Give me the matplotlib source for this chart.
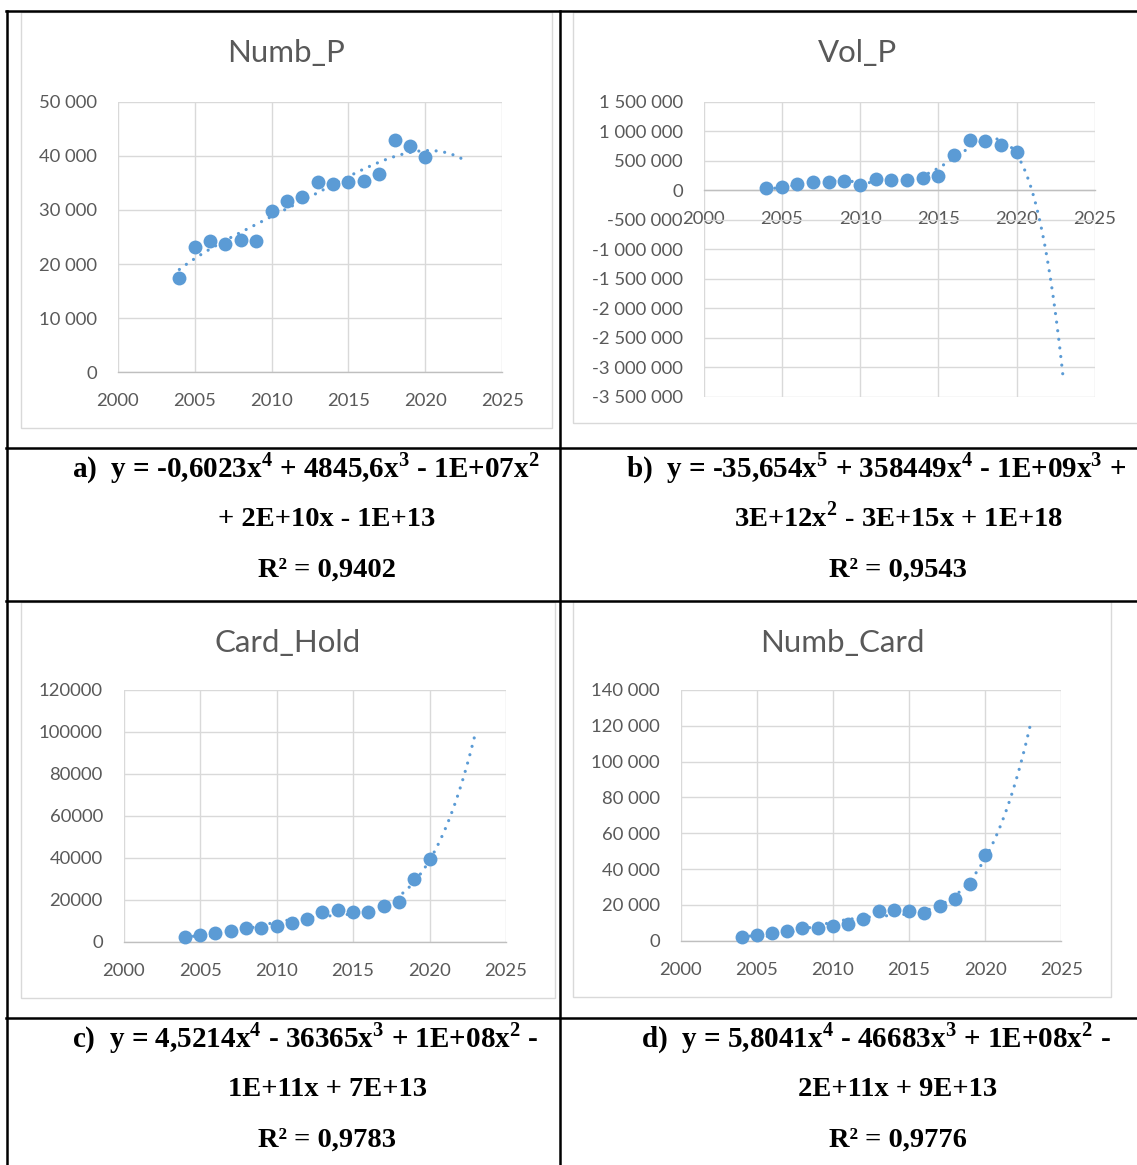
import numpy as np
import matplotlib
matplotlib.use("Agg")
import matplotlib.pyplot as plt
from matplotlib.ticker import FuncFormatter, MultipleLocator
from matplotlib.lines import Line2D
from matplotlib.patches import Rectangle

plt.rcParams["mathtext.fontset"] = "custom"
plt.rcParams["mathtext.bf"] = "Liberation Serif:bold"
plt.rcParams["mathtext.rm"] = "Liberation Serif:bold"

# ---------------- data ----------------
years = [2004, 2005, 2006, 2007, 2008, 2009, 2010, 2011, 2012,
         2013, 2014, 2015, 2016, 2017, 2018, 2019, 2020]

numb_p = [17500, 23200, 24200, 23700, 24500, 24300, 29800, 31600, 32400,
          35200, 34800, 35200, 35400, 36600, 43000, 41800, 39800]

vol_p = [30000, 51000, 102000, 141000, 141000, 153000, 80000, 187000, 170000,
         175000, 199000, 238000, 594000, 849000, 837000, 764000, 645000]

card_hold = [2100, 3200, 4000, 5300, 6500, 6500, 7600, 8900, 10800,
             14200, 14900, 14200, 14000, 17000, 18900, 29700, 39300]

numb_card = [2200, 3000, 4100, 5600, 6900, 7300, 8200, 9300, 11900,
             16400, 16900, 16800, 15500, 19400, 23300, 31800, 47900]

titles = ["Numb_P", "Vol_P", "Card_Hold", "Numb_Card"]
x_ticks = [2000, 2005, 2010, 2015, 2020, 2025]

def sup(d):
    return r"$^{\mathbf{" + d + "}}$"

eq_lines = [
    ["a)  y = -0,6023x" + sup("4") + " + 4845,6x" + sup("3") + " - 1E+07x" + sup("2"),
     "+ 2E+10x - 1E+13", "R\u00b2 = 0,9402"],
    ["b)  y = -35,654x" + sup("5") + " + 358449x" + sup("4") + " - 1E+09x" + sup("3") + " +",
     "3E+12x" + sup("2") + " - 3E+15x + 1E+18", "R\u00b2 = 0,9543"],
    ["c)  y = 4,5214x" + sup("4") + " - 36365x" + sup("3") + " + 1E+08x" + sup("2") + " -",
     "1E+11x + 7E+13", "R\u00b2 = 0,9783"],
    ["d)  y = 5,8041x" + sup("4") + " - 46683x" + sup("3") + " + 1E+08x" + sup("2") + " -",
     "2E+11x + 9E+13", "R\u00b2 = 0,9776"],
]

# ---------------- figure ----------------
W, H = 1137, 1165
fig = plt.figure(figsize=(W / 100, H / 100), dpi=100)

def fx(x):
    return x / W

def fy(y):
    return 1 - y / H

BLUE = "#5B9BD5"
GRID = "#D9D9D9"
TXT = "#595959"
CHART_FONT = ["Lato", "DejaVu Sans"]
SERIF = ["Liberation Serif", "DejaVu Serif"]

def sep_fmt(v, pos):
    s = f"{int(round(v)):,}".replace(",", " ")
    return s

def plain_fmt(v, pos):
    return f"{int(round(v))}"

panels = [
    dict(series=numb_p, plot=(117.9, 101.7, 502.1, 372.3), ylim=(0, 50000), ystep=10000,
         fmt=sep_fmt, deg=4, end=2022.7, title_xy=(286, 62), frame=(20.5, 11.7, 551.8, 428.3)),
    dict(series=vol_p, plot=(703.5, 101.7, 1094.8, 396.7), ylim=(-3500000, 1500000), ystep=500000,
         fmt=sep_fmt, deg=5, end=2023.0, title_xy=(858, 62), frame=(573, 11.7, 1140, 423.3)),
    dict(series=card_hold, plot=(123.6, 690.0, 506.0, 941.7), ylim=(0, 120000), ystep=20000,
         fmt=plain_fmt, deg=4, end=2023.0, title_xy=(287.5, 652), frame=(20.5, 601.5, 555, 998.3)),
    dict(series=numb_card, plot=(680.7, 690.0, 1061.3, 940.7), ylim=(0, 140000), ystep=20000,
         fmt=sep_fmt, deg=4, end=2023.0, title_xy=(842, 652), frame=(573, 601.5, 1111, 997.3)),
]

# chart frames
for p in panels:
    l, t, r, b = p["frame"]
    fig.patches.append(Rectangle((fx(l), fy(b)), fx(r) - fx(l), fy(t) - fy(b),
                                 transform=fig.transFigure, fill=False,
                                 edgecolor=GRID, linewidth=1.0, zorder=0))

yrs = np.array(years, dtype=float)
for p, title in zip(panels, titles):
    l, t, r, b = p["plot"]
    ax = fig.add_axes([fx(l), fy(b), fx(r) - fx(l), fy(t) - fy(b)])
    ax.set_facecolor("none")
    ax.set_xlim(2000, 2025)
    ax.set_ylim(*p["ylim"])
    ax.set_xticks(x_ticks)
    ax.yaxis.set_major_locator(MultipleLocator(p["ystep"]))
    ax.yaxis.set_major_formatter(FuncFormatter(p["fmt"]))
    ax.xaxis.set_major_formatter(FuncFormatter(plain_fmt))
    ax.grid(True, color=GRID, linewidth=1.0, zorder=0)
    ax.set_axisbelow(True)
    for s in ["left", "right", "top"]:
        ax.spines[s].set_visible(False)
    ax.spines["bottom"].set_position(("data", 0))
    ax.spines["bottom"].set_color("#BFBFBF")
    ax.spines["bottom"].set_linewidth(1.0)
    ax.tick_params(axis="both", length=0, colors=TXT, labelsize=13.3)
    ax.tick_params(axis="y", pad=15)
    ax.tick_params(axis="x", pad=15)
    for lab in ax.get_xticklabels() + ax.get_yticklabels():
        lab.set_family(CHART_FONT)

    vals = np.array(p["series"], dtype=float)
    coef = np.polyfit(yrs - 2012, vals, p["deg"])
    xs = np.linspace(2004, p["end"], 400)
    ax.plot(xs, np.polyval(coef, xs - 2012), color=BLUE, linewidth=2.3,
            linestyle=(0, (0.01, 2.7)), dash_capstyle="round", zorder=3, clip_on=False)
    ax.plot(years, vals, "o", color=BLUE, markersize=10, markeredgewidth=0, zorder=4, clip_on=False)

    fig.text(fx(p["title_xy"][0]), fy(p["title_xy"][1]), title, ha="center", va="baseline",
             color=TXT, fontsize=22.5, family=CHART_FONT)

# ---------------- table lines ----------------
LW = 1.8
def hline(y, x0=6, x1=W):
    fig.add_artist(Line2D([fx(x0), fx(x1)], [fy(y), fy(y)], transform=fig.transFigure,
                          color="black", linewidth=LW))

def vline(x, y0=10.7, y1=H):
    fig.add_artist(Line2D([fx(x), fx(x)], [fy(y0), fy(y1)], transform=fig.transFigure,
                          color="black", linewidth=LW))

hline(10.7)
hline(447.5)
hline(601)
hline(1017.5)
vline(7)
vline(560)

# ---------------- equation text ----------------
row_base = [[476.5, 526.5, 576.5], [1046.5, 1096.5, 1146.5]]
cells = [
    (0, 72, 327),
    (0, 626, 898),
    (1, 72, 327),
    (1, 641, 898),
]
FS = 20.5
FS1 = 20.95
for (row, x_left, x_center), lines in zip(cells, eq_lines):
    ys = row_base[row]
    fig.text(fx(x_left), fy(ys[0]), lines[0], ha="left", va="baseline", fontsize=FS1,
             fontweight="bold", family=SERIF, color="black")
    fig.text(fx(x_center), fy(ys[1]), lines[1], ha="center", va="baseline", fontsize=FS,
             fontweight="bold", family=SERIF, color="black")
    fig.text(fx(x_center), fy(ys[2]), lines[2], ha="center", va="baseline", fontsize=FS,
             fontweight="bold", family=SERIF, color="black")

fig.savefig("out.png", dpi=100)
